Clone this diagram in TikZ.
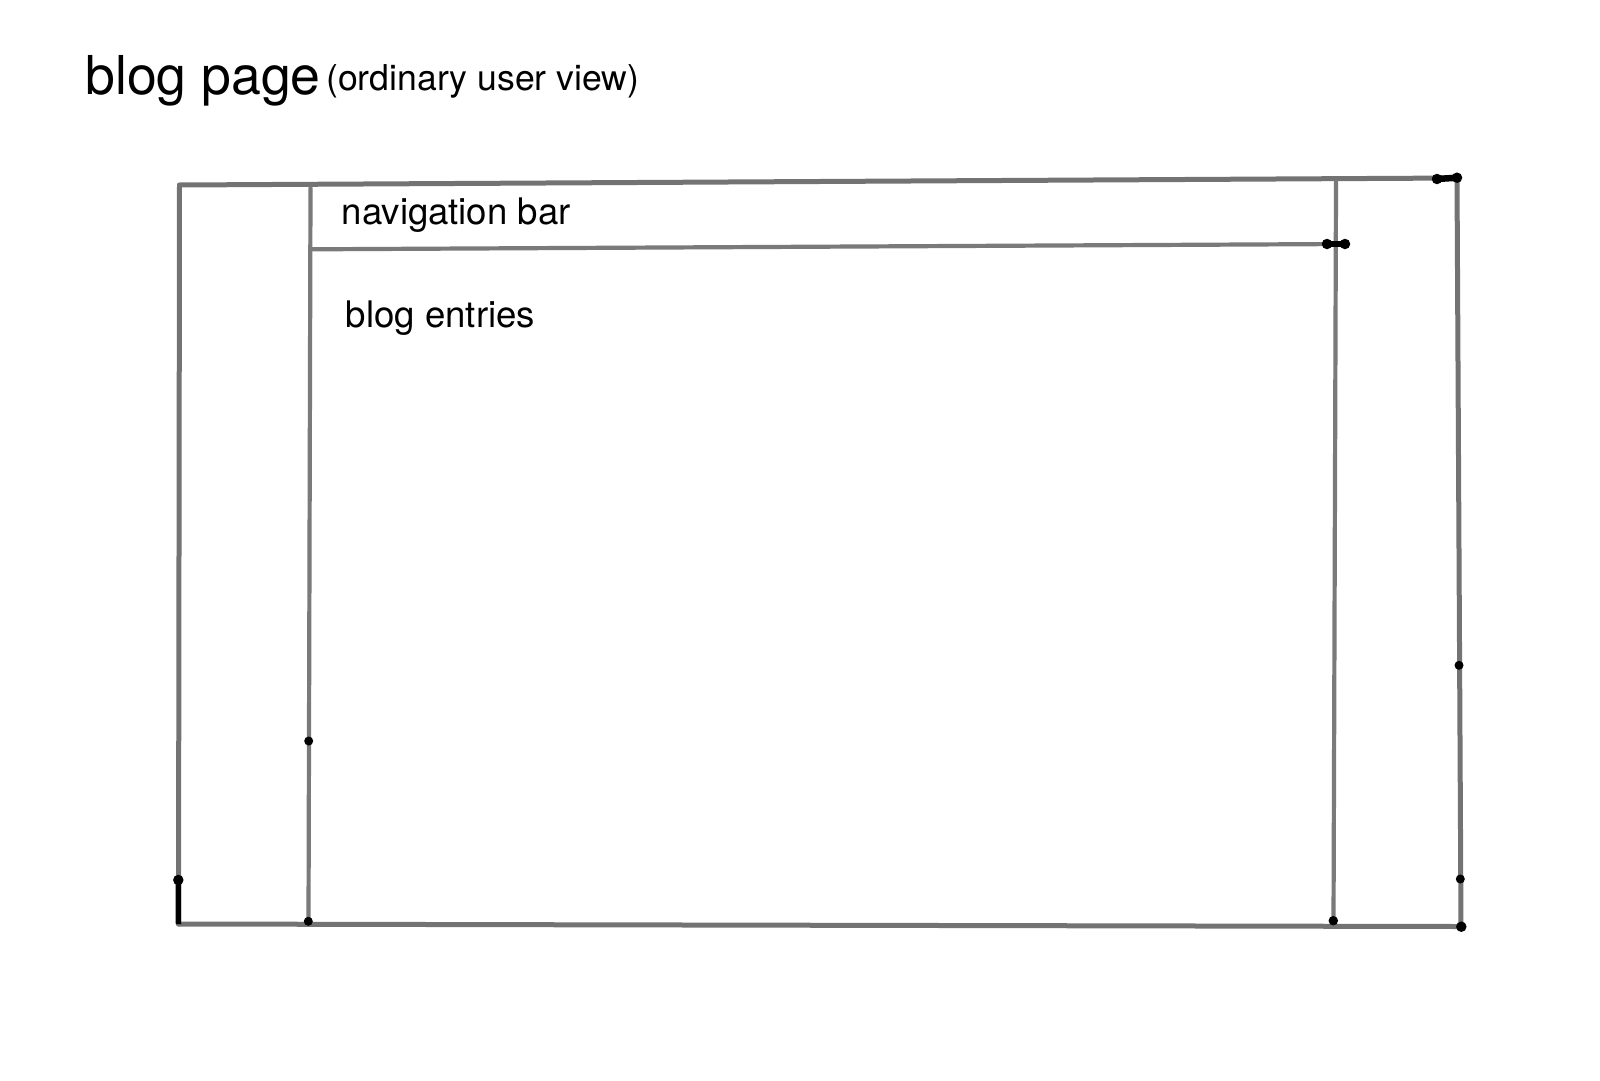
\documentclass[tikz,border=0pt]{standalone}
\usepackage{fontspec}
\setmainfont{TeX Gyre Heros}
\begin{document}
\begin{tikzpicture}[x=1pt,y=-1pt,
  edge/.style={draw=black!55,line width=5pt,line cap=round},
  thin edge/.style={draw=black!52,line width=4.2pt,line cap=round},
  dot/.style={circle,fill=black,inner sep=0pt,minimum size=10.5pt},
  label/.style={anchor=base west,inner sep=0pt,font=\fontsize{36.6}{42}\selectfont}]
\useasboundingbox (0,0) rectangle (1600,1080);
% outer frame corners
\coordinate (otl) at (179.5,185);
\coordinate (otr) at (1457,178);
\coordinate (obl) at (178.5,924);
\coordinate (obr) at (1461,926.5);
% inner columns
\coordinate (itl) at (310.5,188);
\coordinate (ibl) at (308.5,921.5);
\coordinate (itr) at (1336,182);
\coordinate (ibr) at (1333.5,920.5);
% nav bar line
\coordinate (nl) at (312,249.3);
\coordinate (nr) at (1345,244);
\draw[edge] (otl) -- (otr);
\draw[edge] (otl) -- (obl);
\draw[edge] (obl) -- (obr);
\draw[edge] (otr) -- (obr);
\draw[thin edge] (itl) -- (ibl);
\draw[thin edge] (itr) -- (ibr);
\draw[thin edge] (nl) -- (nr);
% dots
\node[dot] (d1) at (1437,179) {};
\node[dot] (d2) at (1457,177.7) {};
\draw[line width=6.5pt] (d1.center) -- (d2.center);
\node[dot] (d3) at (1327,244) {};
\node[dot] (d4) at (1345,244) {};
\draw[line width=6.5pt] (d3.center) -- (d4.center);
\node[dot] (d5) at (178.3,880) {};
\draw[line width=5.5pt] (d5.center) -- (obl);
\node[dot,minimum size=9pt] (d6) at (308.3,921.3) {};
\node[dot,minimum size=9pt] (d7) at (308.7,741) {};
\node[dot,minimum size=9.5pt] (d8) at (1333.3,920.7) {};
\node[dot,minimum size=9pt] (d9) at (1460.3,879) {};
\node[dot] (d10) at (1461.3,926.7) {};
\node[dot,minimum size=9pt] (d11) at (1459,665.3) {};
% texts
\node[anchor=base west,inner sep=0pt,font=\fontsize{53.6}{60}\selectfont] (title) at (85.1,94.4) {blog page};
\node[anchor=base west,inner sep=0pt,font=\fontsize{35.6}{42}\selectfont] (sub) at (326.1,90.3) {(ordinary user view)};
\node[label] (nav) at (341.5,224.6) {navigation bar};
\node[label] (entries) at (345.6,327.2) {blog entries};
\end{tikzpicture}
\end{document}
